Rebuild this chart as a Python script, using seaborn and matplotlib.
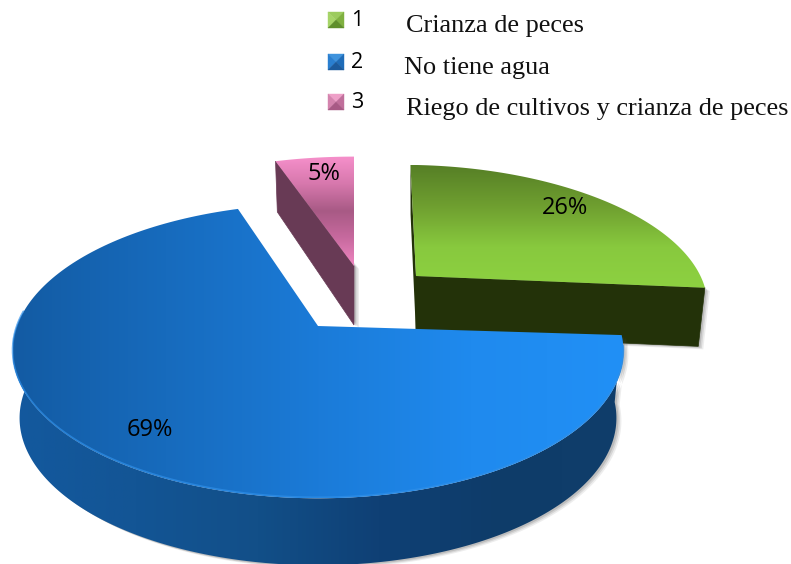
import numpy as np
import seaborn as sns
import matplotlib.pyplot as plt
from matplotlib.patches import Polygon

# datos de la torta
numeros = ['1', '2', '3']
etiquetas = ['Crianza de peces', 'No tiene agua', 'Riego de cultivos y crianza de peces']
porcentajes = [26, 69, 5]

sns.set_theme(style='white')

# perspectiva
K = 0.17
BASE = 0.977

fig = plt.figure(figsize=(7.91, 5.64), dpi=100)
ax = fig.add_axes([0, 0, 1, 1])
ax.set_xlim(0, 791)
ax.set_ylim(564, 0)
ax.axis('off')


def proyecta(theta, c, rx, ry, prof=0, corte=0.0, incl=0.0, fijo=False):
    # theta en grados, horario desde las 12
    t = np.radians(theta)
    u, v = np.sin(t), np.cos(t)
    s = 1 / (1 + K * v)
    x = rx * u * s
    y = -ry * v * s
    xs = c[0] + x + corte * y
    ys = c[1] + y + incl * x + prof * (1 if fijo else s)
    if prof:
        xs = c[0] + (xs - c[0]) * BASE
    return xs, ys


def degradado(verts, colores, vertical=True, z=2):
    cmap = sns.blend_palette(colores, as_cmap=True)
    xs, ys = verts[:, 0], verts[:, 1]
    x0, x1 = xs.min(), xs.max()
    y0, y1 = ys.min(), ys.max()
    g = np.linspace(0, 1, 256)
    g = g[:, None] if vertical else g[None, :]
    im = ax.imshow(g, cmap=cmap, extent=[x0, x1, y1, y0], aspect='auto', zorder=z, origin='upper')
    parche = Polygon(verts, closed=True, transform=ax.transData, fc='none', ec='none')
    ax.add_patch(parche)
    im.set_clip_path(parche)


def sombra(verts, z):
    for d, a in ((5, 0.10), (3.5, 0.15), (2, 0.2)):
        ax.add_patch(Polygon(verts + [d, d * 0.6], closed=True, fc='#555555', ec='none', alpha=a, zorder=z))


acum = np.concatenate([[0], np.cumsum(porcentajes)]) * 3.6
inicio, fin = acum[:-1], acum[1:]


def arco(a, b, c, rx, ry, prof=0, corte=0.0, incl=0.0, fijo=False):
    th = np.linspace(a, b, 200)
    return np.column_stack(proyecta(th, c, rx, ry, prof, corte, incl, fijo))


def cara_corte(theta, c, rx, ry, prof, corte=0.0, incl=0.0):
    p = np.array(proyecta(theta, c, rx, ry, 0, corte, incl))
    q = np.array(proyecta(theta, c, rx, ry, prof, corte, incl))
    return np.array([c, p, q, [c[0], c[1] + prof]])


# --- verde (26 %)
c = (416, 276)
rx, ry, pr, cz, inc = 286, 130, 58, 0.05, 0.012
cara_der = cara_corte(fin[0], c, rx, ry, pr, cz, inc)
cara_izq = cara_corte(inicio[0], c, rx, ry, pr, cz, inc)
sombra(cara_der, 1)
sombra(cara_izq, 1)
ax.add_patch(Polygon(cara_izq, closed=True, fc='#233209', ec='none', zorder=2))
ax.add_patch(Polygon(cara_der, closed=True, fc='#233209', ec='#233209', lw=0.5, zorder=2))
sup = np.vstack([[c], arco(inicio[0], fin[0], c, rx, ry, 0, cz, inc)])
degradado(sup, ['#567f26', '#6f9f30', '#88c93e', '#8dd141'], z=3)

# --- rosado (5 %)
c = (354, 266)
rx, ry, pr = 295, 128, 59
cara = cara_corte(inicio[2], c, rx, ry, pr)
sombra(cara, 1)
ax.add_patch(Polygon(cara, closed=True, fc='#683a55', ec='#683a55', lw=0.5, zorder=2))
sup = np.vstack([[c], arco(inicio[2], fin[2], c, rx, ry)])
degradado(sup, ['#f690cb', '#d778ad', '#a85a85', '#c86a9f', '#ef86c1'], z=3)

# --- azul (69 %)
c = (318, 326)
rx, ry, pr = 301, 143, 67
th_lado = inicio[1] + 182
borde = arco(inicio[1], th_lado, c, rx, ry)
base = arco(inicio[1], th_lado, c, rx, ry, pr, fijo=True)
lado = np.vstack([borde, base[::-1]])
sombra(lado, 4)
degradado(lado, ['#13599e', '#135595', '#124f88', '#0f4075', '#0e3c69', '#103e6b'], vertical=False, z=5)
sup = np.vstack([[c], arco(inicio[1], fin[1], c, rx, ry)])
degradado(sup, ['#135ba3', '#176bbd', '#1b7bd8', '#1f8aee', '#2190f6'], vertical=False, z=6)
ax.plot(borde[5:, 0], borde[5:, 1] - 1, color='#2f8fe8', lw=1.2, alpha=0.7, zorder=7)

# etiquetas de porcentaje
pos_pct = [(565, 208), (150, 430), (324, 174)]
for p, (x, y) in zip(porcentajes, pos_pct):
    ax.text(x, y, f'{p}%', fontsize=17, family='Open Sans', color='black',
            ha='center', va='center', zorder=10)

# leyenda
ley = [('#9ccb5e', '#a6d468', '#7fb040', '#5f8f2c'),
       ('#3f93dd', '#2a7fd0', '#1f6cb8', '#1c5a9c'),
       ('#eea0c8', '#d484ae', '#c06f9b', '#a85a85')]
ley_y = [20, 62, 102]
txt_y = [32, 74, 115]
txt_x = [406, 404, 406]
for n, et, col, y, ty, tx in zip(numeros, etiquetas, ley, ley_y, txt_y, txt_x):
    x0, x1, y0, y1 = 328, 344, y - 8, y + 8
    xm, ym = (x0 + x1) / 2, (y0 + y1) / 2
    for cc, tri in zip(col, ([(x0, y0), (x1, y0), (xm, ym)],
                             [(x0, y0), (x0, y1), (xm, ym)],
                             [(x1, y0), (x1, y1), (xm, ym)],
                             [(x0, y1), (x1, y1), (xm, ym)])):
        ax.add_patch(Polygon(tri, closed=True, fc=cc, ec=cc, lw=0.3, zorder=3))
    ax.text(351, y, n, fontsize=15.5, family='Open Sans', color='black', va='center', ha='left')
    ax.text(tx, ty, et, fontsize=18.9, family='Liberation Serif', color='#111111', va='baseline', ha='left')

fig.savefig('out.png', dpi=100)
